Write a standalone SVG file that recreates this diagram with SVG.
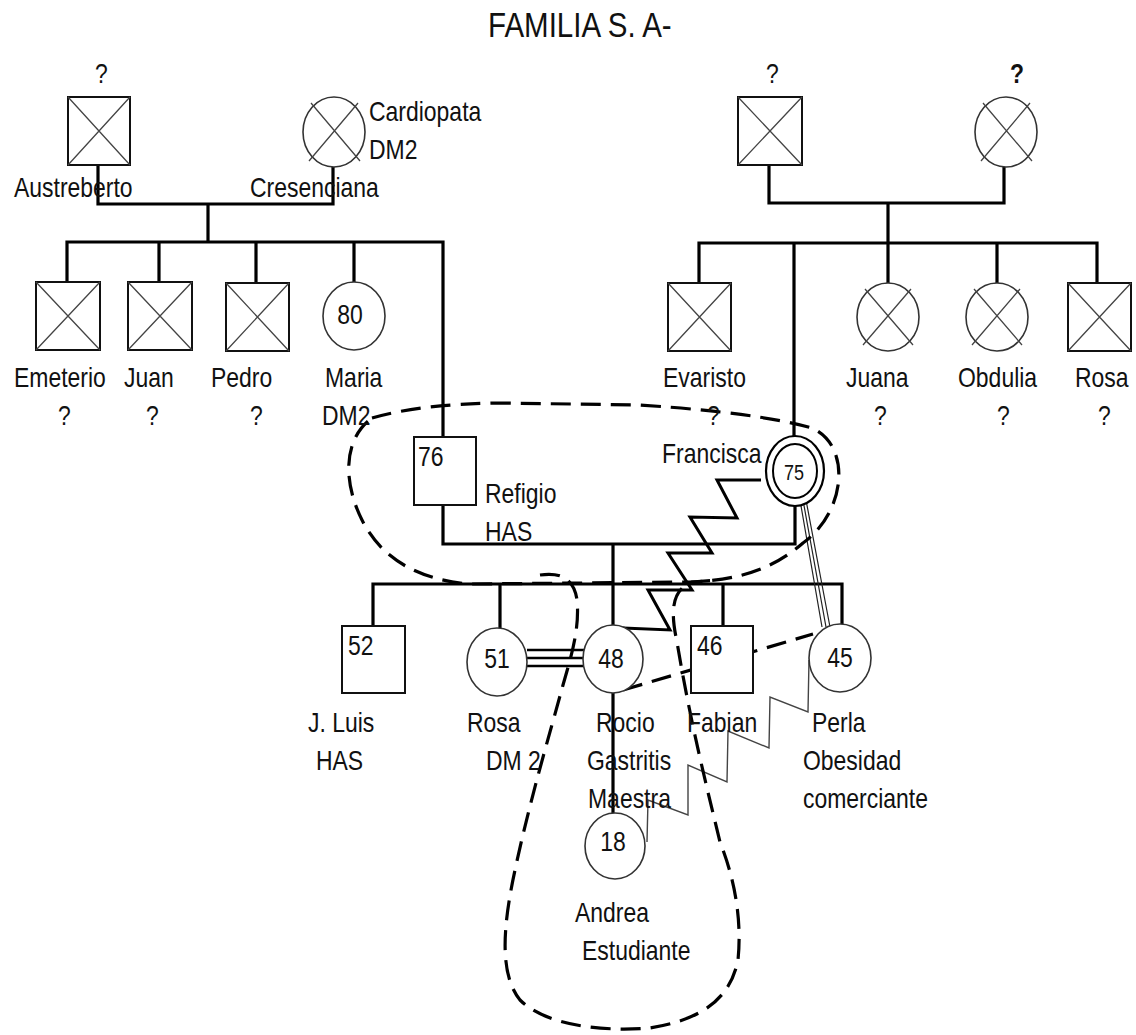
<svg xmlns="http://www.w3.org/2000/svg" width="1136" height="1035" viewBox="0 0 1136 1035">
<style>
.t{font-family:"Liberation Sans",Arial,sans-serif;font-size:28px;fill:#111;transform-box:fill-box;transform-origin:0 0;transform:scaleX(0.82)}
.m{text-anchor:middle;transform-origin:50% 50%}
.box{fill:#fff;stroke:#111;stroke-width:2}
.cir{fill:#fff;stroke:#333;stroke-width:1.6}
.x{stroke:#444;stroke-width:1.3;fill:none}
.c{fill:none;stroke:#000;stroke-width:3.2;stroke-linejoin:miter}
.d{fill:none;stroke:#000;stroke-width:3.2;stroke-dasharray:20 10}
.tl{fill:none;stroke:#222;stroke-width:1.2}
.zz{fill:none;stroke:#000;stroke-width:3;stroke-linejoin:miter}
.zg{fill:none;stroke:#444;stroke-width:1.4;stroke-linejoin:miter}
</style>
<rect width="1136" height="1035" fill="#fff"/>
<text class="t" x="488" y="37" style="font-size:36px">FAMILIA S. A-</text>

<g id="connectors">
<path class="c" d="M98,166 V204 H333 V167"/>
<path class="c" d="M208,204 V242"/>
<path class="c" d="M67,282 V242 H443 V437"/>
<path class="c" d="M159,242 V282 M256,242 V283 M354,242 V282"/>
<path class="c" d="M769,165 V203 H1004 V167"/>
<path class="c" d="M888,203 V243"/>
<path class="c" d="M699,283 V243 H1097 V283"/>
<path class="c" d="M794,243 V436 M888,243 V283 M997,243 V283"/>
<path class="c" d="M443,505 V544 H795 V506"/>
<path class="c" d="M613,544 V625"/>
<path class="c" d="M373,626 V584 H842 V624"/>
<path class="c" d="M500,584 V628 M723,584 V626"/>
<path class="c" d="M613,693 V813"/>
<path class="c" style="stroke-width:2.6" d="M527,650 H584 M527,658 H584 M527,666 H584"/>
<path class="tl" d="M800,500 L822,627 M803,500 L826,627 M806,500 L830,627"/>
<path class="zz" d="M761,480 L717,480 L737,518 L690,517 L712,553 L668,553 L692,590 L648,590 L670,630 L623,628"/>
<path class="zg" d="M809,660 L808,712 L770,697 L769,748 L728,731 L727,782 L688,765 L688,815 L648,800 L647,842"/>
<path class="d" d="M623,690 L813,634"/>
<path class="d" d="M372,418 Q420,404 500,403 L640,405 Q760,413 812,428 C852,446 846,512 803,543 C774,568 742,580 690,582 L470,584 C420,580 382,560 362,520 C342,480 344,438 372,418 Z"/>
<path class="d" d="M540,575 C560,572 574,578 577,600 C580,630 570,660 563,685 C548,740 530,800 515,870 C502,930 500,975 520,1000 C545,1025 600,1032 650,1028 C700,1020 730,1000 738,960 C742,920 735,880 720,842 C705,780 690,720 677,642 C670,610 672,590 692,582 L720,580"/>
</g>

<g id="austreberto">
<rect class="box" x="68" y="97" width="62" height="68"/>
<path class="x" d="M68,97 L130,165 M130,97 L68,165"/>
<text class="t" x="95" y="83">?</text>
<text class="t" x="14" y="197">Austreberto</text>
</g>
<g id="cresenciana">
<ellipse class="cir" cx="334" cy="132" rx="31" ry="35"/>
<path class="x" d="M311,103 L360,161 M358,103 L309,161"/>
<text class="t" x="369" y="121">Cardiopata</text>
<text class="t" x="369" y="159">DM2</text>
<text class="t" x="250" y="197">Cresenciana</text>
</g>
<g id="padre-francisca">
<rect class="box" x="738" y="97" width="64" height="68"/>
<path class="x" d="M738,97 L802,165 M802,97 L738,165"/>
<text class="t" x="766" y="83">?</text>
</g>
<g id="madre-francisca">
<ellipse class="cir" cx="1006" cy="132" rx="31" ry="35"/>
<path class="x" d="M983,103 L1032,161 M1030,103 L981,161"/>
<text class="t" x="1010" y="83" style="font-weight:bold">?</text>
</g>

<g id="emeterio">
<rect class="box" x="36" y="282" width="64" height="68"/>
<path class="x" d="M36,282 L100,350 M100,282 L36,350"/>
<text class="t" x="14" y="387">Emeterio</text>
<text class="t" x="58" y="425">?</text>
</g>
<g id="juan">
<rect class="box" x="128" y="282" width="64" height="68"/>
<path class="x" d="M128,282 L192,350 M192,282 L128,350"/>
<text class="t" x="124" y="387">Juan</text>
<text class="t" x="146" y="425">?</text>
</g>
<g id="pedro">
<rect class="box" x="226" y="283" width="63" height="68"/>
<path class="x" d="M226,283 L289,351 M289,283 L226,351"/>
<text class="t" x="211" y="387">Pedro</text>
<text class="t" x="250" y="425">?</text>
</g>
<g id="maria">
<ellipse class="cir" cx="354" cy="316" rx="31" ry="34"/>
<text class="t m" x="350" y="324">80</text>
<text class="t" x="325" y="387">Maria</text>
<text class="t" x="322" y="425">DM2</text>
</g>
<g id="evaristo">
<rect class="box" x="668" y="283" width="63" height="68"/>
<path class="x" d="M668,283 L731,351 M731,283 L668,351"/>
<text class="t" x="663" y="387">Evaristo</text>
<text class="t" x="707" y="425">?</text>
</g>
<g id="juana">
<ellipse class="cir" cx="888" cy="317" rx="31" ry="34"/>
<path class="x" d="M865,289 L913,345 M911,289 L863,345"/>
<text class="t" x="846" y="387">Juana</text>
<text class="t" x="874" y="425">?</text>
</g>
<g id="obdulia">
<ellipse class="cir" cx="997" cy="317" rx="31" ry="34"/>
<path class="x" d="M974,289 L1022,345 M1020,289 L972,345"/>
<text class="t" x="958" y="387">Obdulia</text>
<text class="t" x="997" y="425">?</text>
</g>
<g id="rosa-tia">
<rect class="box" x="1068" y="283" width="63" height="68"/>
<path class="x" d="M1068,283 L1131,351 M1131,283 L1068,351"/>
<text class="t" x="1075" y="387">Rosa</text>
<text class="t" x="1098" y="425">?</text>
</g>

<g id="refigio">
<rect class="box" x="414" y="437" width="62" height="68"/>
<text class="t" x="418" y="466">76</text>
<text class="t" x="485" y="503">Refigio</text>
<text class="t" x="485" y="541">HAS</text>
</g>
<g id="francisca">
<ellipse cx="795" cy="471" rx="29" ry="35" fill="#fff" stroke="#000" stroke-width="2.2"/>
<ellipse cx="795" cy="471" rx="22" ry="27" fill="#fff" stroke="#000" stroke-width="2"/>
<text class="t m" x="794" y="480" style="font-size:22px">75</text>
<text class="t" x="662" y="463">Francisca</text>
</g>

<g id="jluis">
<rect class="box" x="342" y="626" width="63" height="67"/>
<text class="t" x="348" y="655">52</text>
<text class="t" x="308" y="732">J. Luis</text>
<text class="t" x="316" y="770">HAS</text>
</g>
<g id="rosa">
<ellipse class="cir" cx="497" cy="662" rx="30" ry="34"/>
<text class="t m" x="497" y="668">51</text>
<text class="t" x="467" y="732">Rosa</text>
<text class="t" x="486" y="770">DM 2</text>
</g>
<g id="rocio">
<ellipse class="cir" cx="613" cy="659" rx="30" ry="34"/>
<text class="t m" x="611" y="668">48</text>
<text class="t" x="596" y="732">Rocio</text>
<text class="t" x="587" y="770">Gastritis</text>
<text class="t" x="588" y="808">Maestra</text>
</g>
<g id="fabian">
<rect class="box" x="691" y="626" width="62" height="67"/>
<text class="t" x="697" y="655">46</text>
<text class="t" x="687" y="732">Fabian</text>
</g>
<g id="perla">
<ellipse class="cir" cx="840" cy="658" rx="31" ry="34"/>
<text class="t m" x="840" y="667">45</text>
<text class="t" x="812" y="732">Perla</text>
<text class="t" x="803" y="770">Obesidad</text>
<text class="t" x="803" y="808">comerciante</text>
</g>
<g id="andrea">
<ellipse class="cir" cx="615" cy="846" rx="30" ry="33"/>
<text class="t m" x="613" y="851">18</text>
<text class="t" x="575" y="922">Andrea</text>
<text class="t" x="582" y="960">Estudiante</text>
</g>
</svg>
